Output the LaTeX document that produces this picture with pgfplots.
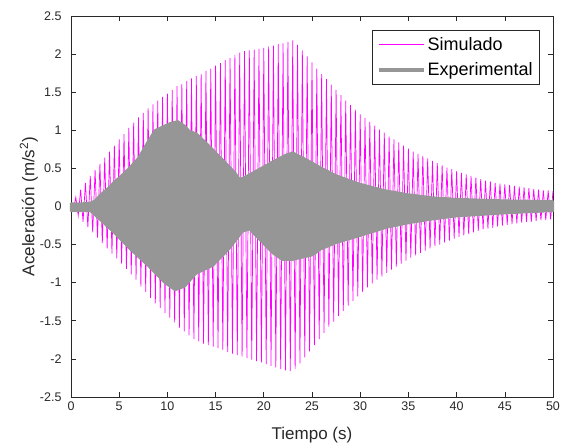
\documentclass[border=0pt]{standalone}
\usepackage{fontspec}
\setmainfont{Liberation Sans}
\usepackage{pgfplots}
\pgfplotsset{compat=1.18}
\definecolor{simmag}{RGB}{255,0,255}
\definecolor{expgray}{RGB}{150,150,150}
\definecolor{axgray}{RGB}{40,40,40}
\begin{document}
\begin{tikzpicture}
\begin{axis}[
  width=482bp, height=381bp, scale only axis,
  xmin=0, xmax=50, ymin=-2.5, ymax=2.5,
  xtick={0,5,...,50},
  ytick={-2.5,-2,-1.5,-1,-0.5,0,0.5,1,1.5,2,2.5},
  yticklabels={-2.5,-2,-1.5,-1,-0.5,0,0.5,1,1.5,2,2.5},
  tick align=inside, major tick length=5bp,
  axis line style={axgray, line width=0.6bp},
  tick style={axgray, line width=0.6bp},
  /pgf/number format/assume math mode=true,
  tick label style={font=\fontsize{12.5bp}{15bp}\selectfont, text=axgray},
  label style={font=\fontsize{17bp}{20bp}\selectfont, text=axgray},
  xlabel={Tiempo (s)},
  ylabel={Aceleración (m/s\textsuperscript{2})},
  xlabel style={at={(axis description cs:0.5,0)}, anchor=north, yshift=-30bp, inner sep=0pt},
  ylabel style={at={(axis description cs:0,0.5)}, anchor=south, yshift=33bp, inner sep=0pt},
  yticklabel style={xshift=-6bp},
  xticklabel style={yshift=-1bp},
  legend style={at={(1,1)}, anchor=north east, xshift=-13bp, yshift=-14bp,
    font=\fontsize{18bp}{21bp}\selectfont, draw=axgray, line width=0.6bp,
    inner xsep=5bp, inner ysep=5bp, row sep=7bp,
    cells={anchor=west}},
  legend image code/.code={\draw[#1] (0bp,0bp) -- (45bp,0bp);},
  clip=false,
]
\addplot[simmag, line width=0.7bp, forget plot] coordinates {
(0,0.02)(0.25,-0.04)(0.5,0.12)(0.75,-0.12)(1,0.22)(1.25,-0.20)(1.5,0.31)(1.75,-0.27)(2,0.40)(2.25,-0.34)(2.5,0.48)(2.75,-0.41)(3,0.56)(3.25,-0.48)(3.5,0.64)(3.75,-0.55)(4,0.72)(4.25,-0.62)(4.5,0.80)(4.75,-0.68)(5,0.88)(5.25,-0.75)(5.5,0.95)(5.75,-0.82)(6,1.03)(6.25,-0.89)(6.5,1.10)(6.75,-0.96)(7,1.17)(7.25,-1.05)(7.5,1.23)(7.75,-1.12)(8,1.29)(8.25,-1.20)(8.5,1.34)(8.75,-1.27)(9,1.39)(9.25,-1.33)(9.5,1.44)(9.75,-1.40)(10,1.48)(10.25,-1.46)(10.5,1.53)(10.75,-1.52)(11,1.58)(11.25,-1.59)(11.5,1.61)(11.75,-1.64)(12,1.65)(12.25,-1.69)(12.5,1.68)(12.75,-1.74)(13,1.71)(13.25,-1.77)(13.5,1.74)(13.75,-1.80)(14,1.78)(14.25,-1.82)(14.5,1.81)(14.75,-1.84)(15,1.85)(15.25,-1.86)(15.5,1.88)(15.75,-1.88)(16,1.92)(16.25,-1.91)(16.5,1.95)(16.75,-1.93)(17,1.99)(17.25,-1.95)(17.5,2.02)(17.75,-1.97)(18,2.04)(18.25,-1.99)(18.5,2.05)(18.75,-2.01)(19,2.06)(19.25,-2.03)(19.5,2.07)(19.75,-2.05)(20,2.08)(20.25,-2.07)(20.5,2.10)(20.75,-2.09)(21,2.11)(21.25,-2.11)(21.5,2.13)(21.75,-2.13)(22,2.14)(22.25,-2.15)(22.5,2.16)(22.75,-2.16)(23,2.18)(23.25,-2.13)(23.5,2.12)(23.75,-2.06)(24,2.05)(24.25,-1.98)(24.5,1.97)(24.75,-1.90)(25,1.89)(25.25,-1.82)(25.5,1.81)(25.75,-1.74)(26,1.74)(26.25,-1.66)(26.5,1.67)(26.75,-1.58)(27,1.60)(27.25,-1.51)(27.5,1.53)(27.75,-1.44)(28,1.46)(28.25,-1.37)(28.5,1.39)(28.75,-1.30)(29,1.33)(29.25,-1.24)(29.5,1.27)(29.75,-1.18)(30,1.21)(30.25,-1.12)(30.5,1.16)(30.75,-1.06)(31,1.11)(31.25,-1.01)(31.5,1.06)(31.75,-0.96)(32,1.01)(32.25,-0.92)(32.5,0.97)(32.75,-0.87)(33,0.92)(33.25,-0.83)(33.5,0.88)(33.75,-0.79)(34,0.84)(34.25,-0.75)(34.5,0.80)(34.75,-0.71)(35,0.76)(35.25,-0.67)(35.5,0.72)(35.75,-0.64)(36,0.69)(36.25,-0.61)(36.5,0.66)(36.75,-0.58)(37,0.63)(37.25,-0.55)(37.5,0.60)(37.75,-0.52)(38,0.57)(38.25,-0.50)(38.5,0.54)(38.75,-0.47)(39,0.51)(39.25,-0.45)(39.5,0.49)(39.75,-0.42)(40,0.46)(40.25,-0.40)(40.5,0.44)(40.75,-0.38)(41,0.42)(41.25,-0.36)(41.5,0.40)(41.75,-0.34)(42,0.38)(42.25,-0.32)(42.5,0.36)(42.75,-0.30)(43,0.34)(43.25,-0.29)(43.5,0.33)(43.75,-0.28)(44,0.31)(44.25,-0.26)(44.5,0.30)(44.75,-0.25)(45,0.29)(45.25,-0.24)(45.5,0.28)(45.75,-0.23)(46,0.27)(46.25,-0.22)(46.5,0.26)(46.75,-0.21)(47,0.25)(47.25,-0.20)(47.5,0.24)(47.75,-0.20)(48,0.23)(48.25,-0.19)(48.5,0.22)(48.75,-0.18)(49,0.21)(49.25,-0.18)(49.5,0.21)(49.75,-0.17)(50,0.20)
};
\addplot[draw=expgray, fill=expgray, line width=2bp, line join=round, forget plot] coordinates {
(0,0.04)(1,0.04)(2,0.05)(2.5,0.08)(3,0.15)(4,0.26)(4.5,0.33)(5,0.38)(6,0.50)(7,0.64)(8,0.86)(8.7,1.0)(9.5,1.05)(10.4,1.10)(11.1,1.12)(11.8,1.06)(12.3,0.99)(13,0.96)(14,0.84)(14.7,0.75)(15.4,0.66)(16.4,0.53)(17,0.45)(17.5,0.36)(18.2,0.40)(19.5,0.49)(20.9,0.59)(22.3,0.68)(23,0.71)(24.4,0.62)(25.8,0.52)(27.5,0.41)(29.9,0.30)(32.7,0.21)(35,0.16)(37.5,0.12)(40,0.10)(45,0.08)(50,0.07)
(50,-0.06)(45,-0.09)(40,-0.13)(37.5,-0.17)(35,-0.22)(32.7,-0.28)(29.9,-0.39)(27.5,-0.48)(25.8,-0.57)(25.1,-0.64)(23,-0.70)(21.9,-0.70)(20.9,-0.61)(19.5,-0.43)(18.5,-0.30)(17.8,-0.33)(16.4,-0.56)(14.7,-0.78)(13,-0.88)(11.8,-1.05)(10.8,-1.10)(9.7,-1.00)(8,-0.78)(6.2,-0.57)(4.5,-0.35)(2.8,-0.15)(2,-0.06)(0,-0.06)
} -- cycle;
\addlegendimage{simmag, line width=0.8bp}
\addlegendentry{Simulado}
\addlegendimage{expgray, line width=3.5bp}
\addlegendentry{Experimental}
\end{axis}
\pgfresetboundingbox
\path ([xshift=-71bp,yshift=-51bp]current axis.south west) rectangle ([xshift=8bp,yshift=16bp]current axis.north east);
\end{tikzpicture}
\end{document}
